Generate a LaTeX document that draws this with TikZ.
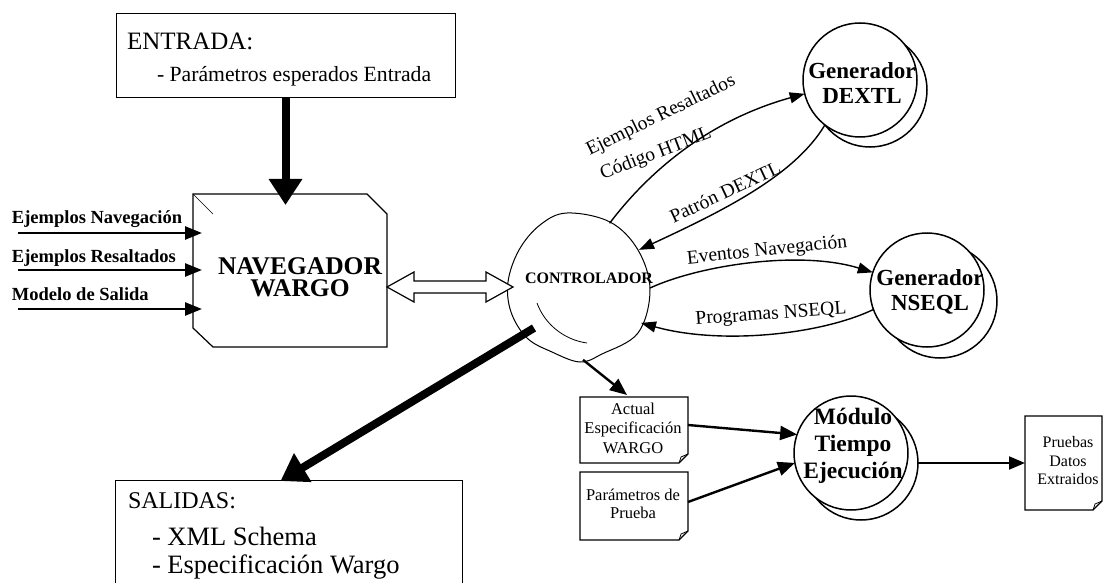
\documentclass[tikz,border=0pt]{standalone}
\usepackage{fontspec}
\setmainfont{Liberation Serif}
\usetikzlibrary{arrows.meta,calc}
\begin{document}
\begin{tikzpicture}[x=1pt,y=-1pt,
  every node/.style={inner sep=0pt, outer sep=0pt},
  hdr/.style={font=\fontsize{25}{28}\selectfont, anchor=base west},
  item/.style={font=\fontsize{21.7}{26}\selectfont, anchor=base west},
  sitem/.style={font=\fontsize{26.5}{28}\selectfont, anchor=base west},
  inlbl/.style={font=\bfseries\fontsize{18.5}{20}\selectfont, anchor=base west},
  thickarr/.style={line width=8pt, -{Triangle[length=26pt,width=32pt]}},
  inarr/.style={line width=2.5pt, -{Triangle[length=17pt,width=13pt]}},
  curvarr/.style={line width=1.4pt, -{Triangle[length=15pt,width=11pt]}},
  medarr/.style={line width=2.4pt, -{Triangle[length=17pt,width=14pt]}},
  gen/.style={circle, draw, line width=1.5pt, fill=white, minimum size=114pt},
  gentxt/.style={font=\bfseries\fontsize{23}{25}\selectfont, align=center},
  lbl/.style={font=\fontsize{19.5}{21}\selectfont},
  doctxt/.style={font=\fontsize{16.5}{19.5}\selectfont, align=center},
  docbox/.style={line width=1.2pt}
]
\useasboundingbox (0,0) rectangle (1106,583);

% ENTRADA box
\node[draw, line width=1pt, minimum width=339pt, minimum height=84pt] (entrada) at (285.5,56) {};
\node[hdr] (et) at (127,50) {ENTRADA:};
\node[item] (ei) at (157,82) {- Parámetros esperados Entrada};

% NAVEGADOR WARGO
\node[minimum width=194pt, minimum height=153pt] (nav) at (290,270.5) {};
\draw[line width=1.2pt] (193,194) -- (367,194) -- (387,214) -- (387,347) -- (213,347) -- (193,328) -- cycle;
\draw[line width=0.6pt] (193,194) -- (213,214);
\node[font=\bfseries\fontsize{25.5}{21.5}\selectfont, align=center] (navt) at (300,277) {NAVEGADOR\\WARGO};

\draw[thickarr] (entrada.south) -- ($(entrada.south |- nav.north)+(0,11)$);

% inputs
\node[inlbl] (n1) at (12,223) {Ejemplos Navegación};
\node[inlbl] (n2) at (12,262) {Ejemplos Resaltados};
\node[inlbl] (n3) at (12,300) {Modelo de Salida};
\coordinate (i1) at (18,233);
\coordinate (i2) at (18,270);
\coordinate (i3) at (18,309);
\draw[inarr] (i1) -- ($(i1 -| nav.west)+(9,0)$);
\draw[inarr] (i2) -- ($(i2 -| nav.west)+(9,0)$);
\draw[inarr] (i3) -- ($(i3 -| nav.west)+(9,0)$);

% CONTROLADOR
\node[circle, minimum size=144pt] (ctrl) at (578,288) {};
\draw[line width=1pt] plot[smooth cycle, tension=0.6] coordinates {(567,213) (610,222) (638,250) (650,290) (638,333) (602,354) (580,362) (552,352) (527,338) (511,312) (508,282) (519,250) (540,225)};
\draw[line width=0.8pt] (537,303) .. controls (545,325) and (565,340) .. (587,343);
\node[font=\bfseries\fontsize{16}{18}\selectfont] (ctrlt) at (589,278) {CONTROLADOR};

% double open arrow
\draw[line width=1.2pt, fill=white] (387,287) -- (414,272) -- (414,281) -- (486,281) -- (486,272) -- (513,287) -- (486,302) -- (486,293) -- (414,293) -- (414,302) -- cycle;

% SALIDAS
\node[minimum width=347pt, minimum height=110pt, anchor=north west] (sal) at (115,480) {};
\draw[line width=1pt] (sal.south west) -- (sal.north west) -- (sal.north east) -- (sal.south east);
\node[hdr, font=\fontsize{24}{28}\selectfont] (st) at (128,508) {SALIDAS:};
\node[sitem] (s1) at (152,545) {- XML Schema};
\node[sitem] (s2) at (152,573) {- Especificación Wargo};
\draw[thickarr] ($(ctrl.center)+(-44,40)$) -- ($(sal.north)+(-8,1)$);

% Generadores
\node[gen] (gds) at (870,90) {};
\node[gen] (gd) at (860,80) {};
\node[gentxt] (gdt) at (862,83) {Generador\\DEXTL};
\node[gen] (gns) at (940,301) {};
\node[gen] (gn) at (927,290) {};
\node[gentxt] (gnt) at (930,292) {Generador\\NSEQL};

% Modulo
\node[gen] (mods) at (861,463) {};
\node[gen] (mod) at (851,453) {};
\node[gentxt, font=\bfseries\fontsize{23.5}{27}\selectfont] (modt) at (853,446) {Módulo\\Tiempo\\Ejecución};

% curved connectors
\draw[curvarr] (ctrl.64) .. controls (650,170) and (710,120) .. (gd.194);
\draw[curvarr] (gd.232) .. controls (795,175) and (725,210) .. (ctrl.32);
\draw[curvarr] (ctrl.0) .. controls (700,265) and (800,250) .. (gn.162);
\draw[curvarr] (gn.200) .. controls (820,335) and (720,345) .. (ctrl.331);

\node[lbl, rotate=26] (l1) at (661,116) {Ejemplos Resaltados};
\node[lbl, rotate=21] (l2) at (656,154) {Código HTML};
\node[lbl, rotate=25] (l3) at (725,192) {Patrón DEXTL};
\node[lbl, rotate=6] (l4) at (767,251) {Eventos Navegación};
\node[lbl, rotate=4] (l5) at (771,315) {Programas NSEQL};

% documents
\node[minimum width=108pt, minimum height=66pt] (doc1) at (634,430) {};
\node[minimum width=108pt, minimum height=68pt] (doc2) at (634,506) {};
\node[minimum width=77pt, minimum height=94pt] (pru) at (1063.5,463) {};
\foreach \d in {doc1,doc2,pru}{
  \draw[docbox] (\d.north west) -- (\d.north east) -- ([yshift=9pt]\d.south east) -- ([xshift=-9pt]\d.south east) -- (\d.south west) -- cycle;
  \draw[line width=0.8pt] ([xshift=-9pt]\d.south east) -- ([xshift=-7pt,yshift=6pt]\d.south east) -- ([yshift=9pt]\d.south east);
}
\node[doctxt] (d1t) at (633,428) {Actual\\Especificación\\WARGO};
\node[doctxt, font=\fontsize{16.5}{18.5}\selectfont] (d2t) at (633,504) {Parámetros de\\Prueba};
\node[doctxt, font=\fontsize{16}{18.5}\selectfont] (prt) at (1068,461) {Pruebas\\Datos\\Extraidos};

\draw[medarr] (ctrl.274) -- ($(doc1.north)+(-7,-2)$);
\draw[medarr] ($(doc1.east)+(0,-5)$) -- (mod.161);
\draw[medarr] ($(doc2.east)+(0,-4)$) -- (mod.190);
\draw[line width=2pt, -{Triangle[length=16pt,width=13pt]}] (mods.east) -- (pru.west);
\end{tikzpicture}
\end{document}
